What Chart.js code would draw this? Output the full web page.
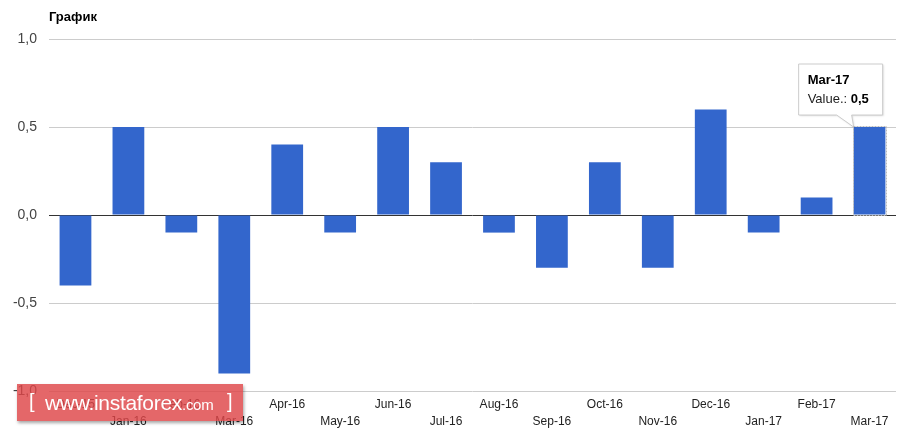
<!DOCTYPE html>
<html><head><meta charset="utf-8">
<script src="https://cdn.jsdelivr.net/npm/chart.js@4/dist/chart.umd.min.js"></script>
<style>
html,body{margin:0;padding:0;background:#fff;}
#wrap{position:relative;width:909px;height:435px;}
#wm{position:absolute;left:17px;top:384px;width:226px;height:37px;background:rgba(222,70,72,0.82);box-shadow:1px 2px 3px rgba(0,0,0,0.35);color:#fff;font-family:"Liberation Sans",Arial,sans-serif;white-space:nowrap;line-height:37px;}
#wm span{position:absolute;top:0;}
#wm .b{font-size:20px;top:-1px;}
#wm .w{font-size:21px;left:28px;letter-spacing:-0.3px;}
#wm .c{font-size:15px;position:static;}
</style>
</head><body>
<div id="wrap"><canvas id="c" width="909" height="435"></canvas>
<div id="wm"><span class="b" style="left:12px">[</span><span class="w">www.instaforex<span class="c">.com</span></span><span class="b" style="left:210px">]</span></div>
</div>
<script>
const chartTitle = "График";
const categories = ["Dec-15","Jan-16","Feb-16","Mar-16","Apr-16","May-16","Jun-16","Jul-16","Aug-16","Sep-16","Oct-16","Nov-16","Dec-16","Jan-17","Feb-17","Mar-17"];
const values = [-0.4,0.5,-0.1,-0.9,0.4,-0.1,0.5,0.3,-0.1,-0.3,0.3,-0.3,0.6,-0.1,0.1,0.5];
const yTicks = [-1.0,-0.5,0,0.5,1.0];
const tooltipIndex = 15;
const fmt = v => v.toFixed(1).replace('.', ',');

const overlay = {
  id:'overlay',
  afterDraw(chart){
    const ctx = chart.ctx;
    ctx.save();
    ctx.fillStyle = '#000';
    ctx.font = 'bold 13px "Liberation Sans", Arial, sans-serif';
    ctx.textBaseline = 'middle';
    ctx.textAlign = 'left';
    ctx.fillText(chartTitle, 49, 17);
    // tooltip
    const bar = chart.getDatasetMeta(0).data[tooltipIndex];
    const ax = bar.x - bar.width/2, ay = bar.y;
    const bx = ax - 55, by = ay - 63, bw = 84, bh = 51;
    ctx.shadowColor = 'rgba(0,0,0,0.15)';
    ctx.shadowOffsetX = 1; ctx.shadowOffsetY = 1; ctx.shadowBlur = 2;
    ctx.beginPath();
    ctx.moveTo(bx, by);
    ctx.lineTo(bx+bw, by);
    ctx.lineTo(bx+bw, by+bh);
    ctx.lineTo(bx+53, by+bh);
    ctx.lineTo(ax, ay);
    ctx.lineTo(bx+38, by+bh);
    ctx.lineTo(bx, by+bh);
    ctx.closePath();
    ctx.fillStyle = '#fff';
    ctx.fill();
    ctx.shadowColor = 'transparent';
    ctx.strokeStyle = '#ccc';
    ctx.lineWidth = 1;
    ctx.stroke();
    ctx.fillStyle = '#000';
    ctx.font = 'bold 13px "Liberation Sans", Arial, sans-serif';
    ctx.fillText(categories[tooltipIndex], bx+9, by+16);
    ctx.font = '13px "Liberation Sans", Arial, sans-serif';
    ctx.fillStyle = '#222';
    const lbl = 'Value.: ';
    ctx.fillText(lbl, bx+9, by+35);
    const w = ctx.measureText(lbl).width;
    ctx.font = 'bold 13px "Liberation Sans", Arial, sans-serif';
    ctx.fillStyle = '#000';
    ctx.fillText(fmt(values[tooltipIndex]), bx+9+w, by+35);
    // highlight outline of hovered bar
    ctx.setLineDash([2,1]);
    ctx.strokeStyle = '#bbbbbb';
    ctx.strokeRect(Math.round(bar.x - bar.width/2) - 0.5, Math.round(bar.y) - 0.5, Math.round(bar.width) + 1, Math.round(bar.base - bar.y) + 1);
    ctx.restore();
  }
};

new Chart(document.getElementById('c'), {
  type:'bar',
  data:{labels:categories, datasets:[{
    data:values,
    backgroundColor:'#3366cc',
    categoryPercentage:1, barPercentage:0.6
  }]},
  options:{
    responsive:false, animation:false,
    layout:{padding:{top:39,right:13,left:0,bottom:0}},
    plugins:{legend:{display:false}, tooltip:{enabled:false}},
    scales:{
      x:{
        grid:{display:false, drawTicks:false},
        border:{display:false},
        ticks:{autoSkip:false, maxRotation:0, minRotation:0, padding:6, color:'#222',
          font:{family:'"Liberation Sans", Arial, sans-serif', size:12, lineHeight:1.35},
          callback:(v,i)=> i%2===0 ? categories[i] : ['', categories[i]]},
        afterFit:s=>{s.height=44;}
      },
      y:{
        min:-1, max:1,
        afterBuildTicks:s=>{s.ticks = yTicks.map(v=>({value:v}));},
        grid:{drawTicks:false, color:c=> c.tick && c.tick.value===0 ? '#333333' : '#cccccc'},
        border:{display:false},
        ticks:{padding:12, color:'#444', font:{family:'"Liberation Sans", Arial, sans-serif', size:14},
          callback:v=>fmt(v)},
        afterFit:s=>{s.width=49;}
      }
    }
  },
  plugins:[overlay]
});
</script>
</body></html>
